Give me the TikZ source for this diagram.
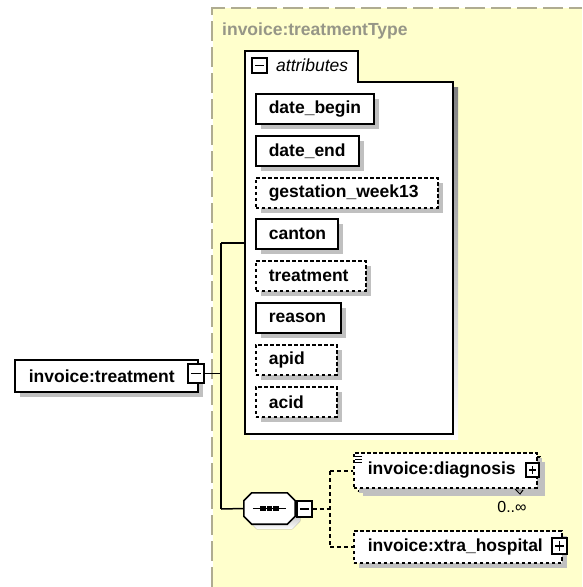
\documentclass[tikz,border=0pt]{standalone}
\usepackage{fontspec}
\setmainfont{Liberation Sans}
\usetikzlibrary{shadows}
\definecolor{bgyellow}{RGB}{255,255,204}
\definecolor{framegray}{RGB}{175,172,145}
\definecolor{titlegray}{RGB}{150,150,135}
\definecolor{shade}{RGB}{192,192,192}
\begin{document}
\begin{tikzpicture}[x=1pt,y=-1pt,
  shadowed/.style={general shadow={fill=shade, shadow xshift=5pt, shadow yshift=-5pt}},
  elem/.style={draw, line width=1.6pt, fill=white, shadowed, anchor=north west,
    minimum height=30pt, inner xsep=13pt, inner ysep=0pt, align=left,
    font=\fontsize{17.5}{20}\selectfont\bfseries},
  optional/.style={dash pattern=on 3.5pt off 2.5pt},
  conn/.style={line width=1.5pt},
  dconn/.style={line width=1.5pt, dash pattern=on 4pt off 3pt},
  btn/.style={draw, fill=white, line width=1.3pt, inner sep=0pt, minimum width=#1},
  minusbtn/.style={btn=#1, path picture={\draw[line width=1.3pt]
    ([xshift=3pt]path picture bounding box.west) -- ([xshift=-3pt]path picture bounding box.east);}},
  plusbtn/.style={btn=#1, path picture={\draw[line width=1.3pt]
    ([xshift=3pt]path picture bounding box.west) -- ([xshift=-3pt]path picture bounding box.east)
    ([yshift=-3pt]path picture bounding box.north) -- ([yshift=3pt]path picture bounding box.south);}}
]
\useasboundingbox (0,0) rectangle (582,587);
% type area
\fill[bgyellow] (213,8) rectangle (582,587);
\draw[framegray, line width=2pt, dash pattern=on 20pt off 6pt] (212,587) -- (212,8) -- (582,8);
\node[anchor=west, text=titlegray, inner sep=0pt, font=\fontsize{17.5}{20}\selectfont\bfseries] (title) at (222,31) {invoice:treatmentType};

% attributes container
\fill[shade] (250,87) rectangle (458,439);
\draw[line width=1.6pt, fill=white] (245,82) -- (245,51) -- (358,51) -- (358,82) -- (453,82) -- (453,434) -- (245,434) -- cycle;
\node[draw=none, anchor=north west, minimum width=208pt, minimum height=352pt, inner sep=0pt] (attrs) at (245,82) {};
\node[minusbtn=15pt, minimum height=15pt] (attrbtn) at (259.5,65.5) {};
\node[anchor=west, inner sep=0pt, font=\fontsize{17.5}{20}\selectfont\itshape] (attrlabel) at (276,65) {attributes};

% attributes
\node[elem, text width=92pt] (a1) at (255,93) {date\_begin};
\node[elem, text width=77pt] (a2) at (255,135) {date\_end};
\node[elem, optional, text width=156pt] (a3) at (255,177) {gestation\_week13};
\node[elem, text width=56pt] (a4) at (255,218) {canton};
\node[elem, optional, text width=84pt] (a5) at (255,260) {treatment};
\node[elem, text width=59pt] (a6) at (255,302) {reason};
\node[elem, optional, text width=55pt] (a7) at (255,344) {apid};
\node[elem, optional, text width=55pt] (a8) at (255,386) {acid};

% main element
\node[elem, minimum height=32pt, inner xsep=14pt, text width=155pt] (treat) at (14,359) {invoice:treatment};
\node[minusbtn=16pt, minimum height=19pt] (treatbtn) at (196,373.5) {};

% junctions
\coordinate (j0) at (221,373.5);
\coordinate (j1) at (221,243);
\coordinate (j2) at (221,509);
\draw[conn] (treatbtn.east) -- (j0);
\draw[conn] (j1) -- (j2);
\draw[conn] (j1) -- (j1 -| attrs.west);

% sequence compositor
\node[draw=none, minimum width=51pt, minimum height=31pt, inner sep=0pt] (seq) at (269.5,508.5) {};
\fill[shade] ([shift={(13,5)}]seq.north west) -- ([shift={(-3,5)}]seq.north east) -- ([shift={(5,13)}]seq.north east)
  -- ([shift={(5,-3)}]seq.south east) -- ([shift={(-3,5)}]seq.south east) -- ([shift={(13,5)}]seq.south west)
  -- ([shift={(5,-3)}]seq.south west) -- ([shift={(5,13)}]seq.north west) -- cycle;
\draw[line width=1.6pt, fill=white] ([xshift=8pt]seq.north west) -- ([xshift=-8pt]seq.north east) -- ([yshift=-8pt]seq.north east)
  -- ([yshift=8pt]seq.south east) -- ([xshift=-8pt]seq.south east) -- ([xshift=8pt]seq.south west)
  -- ([yshift=8pt]seq.south west) -- ([yshift=-8pt]seq.north west) -- cycle;
\draw[line width=1.3pt] ([xshift=9pt]seq.west) -- ([xshift=-9pt]seq.east);
\foreach \sx in {-6.5,0,6.5} \fill ([xshift=\sx pt]seq.center) ++(-2.6,-2.6) rectangle ++(5.2,5.2);
\draw[conn] (j2) -- (seq.west);
\node[minusbtn=15pt, minimum height=16pt] (seqbtn) at (304.5,509) {};

% children
\node[elem, optional, minimum width=182pt, minimum height=34pt, text width=156pt] (diagback) at (357,456) {};
\node[elem, optional, minimum height=35pt, inner xsep=14pt, text width=155pt, general shadow={}] (diag) at (353,452) {invoice:diagnosis};
\node[plusbtn=13pt, minimum height=14pt] (diagbtn) at (532.5,470) {};
\foreach \dy in {456,459,462} \draw[line width=0.8pt] (355,\dy) -- (362,\dy);
\node[anchor=center, inner sep=0pt, font=\fontsize{16}{18}\selectfont] (occ) at (512,507) {0..∞};
\draw[shade, line width=1pt] (515,489) -- (520,494) -- (523,490);

\node[elem, optional, minimum height=32pt, inner xsep=14pt, text width=180pt] (xtra) at (353,530) {invoice:xtra\_hospital};
\node[plusbtn=15pt, minimum height=16pt] (xtrabtn) at (559.5,546) {};

\coordinate (k0) at (330,509);
\coordinate (k1) at (330,471);
\coordinate (k2) at (330,547);
\draw[dconn] (seqbtn.east) -- (k0);
\draw[dconn] (k1) -- (k2);
\draw[dconn] (k1) -- (k1 -| diag.west);
\draw[dconn] (k2) -- (k2 -| xtra.west);
\end{tikzpicture}
\end{document}
